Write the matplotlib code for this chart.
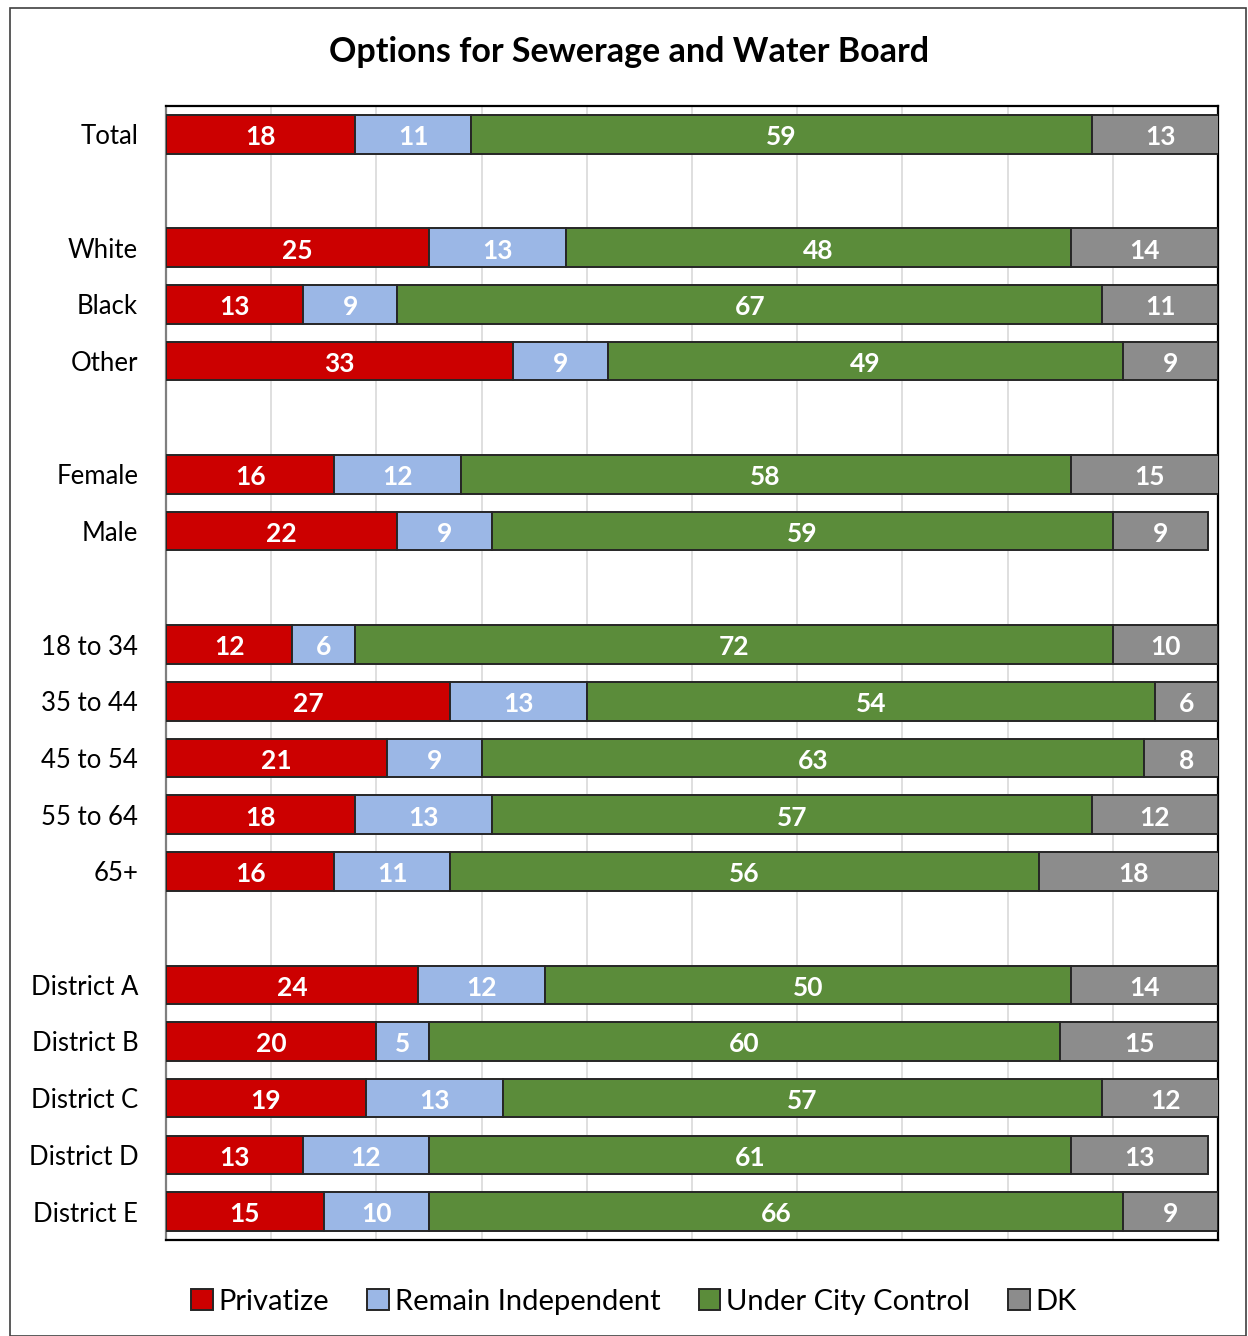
import matplotlib
matplotlib.use('Agg')
import matplotlib.pyplot as plt
from matplotlib.patches import Rectangle
import numpy as np

plt.rcParams['font.family'] = ['Lato', 'DejaVu Sans']

# rows of the chart; None is a blank spacer row
labels = ["Total", None, "White", "Black", "Other", None, "Female", "Male", None,
          "18 to 34", "35 to 44", "45 to 54", "55 to 64", "65+", None,
          "District A", "District B", "District C", "District D", "District E"]
privatize = [18, None, 25, 13, 33, None, 16, 22, None, 12, 27, 21, 18, 16, None, 24, 20, 19, 13, 15]
independent = [11, None, 13, 9, 9, None, 12, 9, None, 6, 13, 9, 13, 11, None, 12, 5, 13, 12, 10]
city = [59, None, 48, 67, 49, None, 58, 59, None, 72, 54, 63, 57, 56, None, 50, 60, 57, 61, 66]
dk = [13, None, 14, 11, 9, None, 15, 9, None, 10, 6, 8, 12, 18, None, 14, 15, 12, 13, 9]

series = ["Privatize", "Remain Independent", "Under City Control", "DK"]
colors = ["#CC0000", "#9BB7E6", "#5B8C3A", "#8C8C8C"]

fig = plt.figure(figsize=(12.48, 13.36), dpi=100)
ax = fig.add_axes([0.133, 0.0719, 0.843, 0.8488])

ypos = [i for i, l in enumerate(labels) if l is not None]
names = [labels[i] for i in ypos]
data = [[s[i] for i in ypos] for s in (privatize, independent, city, dk)]

left = np.zeros(len(ypos))
for vals, name, col in zip(data, series, colors):
    vals = np.array(vals, dtype=float)
    ax.barh(ypos, vals, left=left, height=0.68, color=col,
            edgecolor="#262626", linewidth=1.4, label=name, zorder=3)
    for y, l, v in zip(ypos, left, vals):
        ax.text(l + v / 2, y + 0.05, f"{int(v)}", ha='center', va='center',
                color='white', fontsize=19, fontweight='bold', zorder=4)
    left += vals

ax.set_xlim(0, 100)
ax.set_ylim(19.5, -0.5)
ax.set_xticks(np.arange(0, 101, 10))
ax.set_xticklabels([])
ax.tick_params(axis='x', length=0)
ax.grid(axis='x', color='#D9D9D9', linewidth=1.2, zorder=0)
ax.set_yticks(ypos)
ax.set_yticklabels(names, fontsize=18.5)
ax.tick_params(axis='y', length=0, pad=20)
for s in ax.spines.values():
    s.set_color('black')
    s.set_linewidth(1.6)
ax.spines['left'].set_color('#7F7F7F')

fig.text(0.504, 0.961, "Options for Sewerage and Water Board", ha='center',
         va='center', fontsize=24.5, fontweight='bold')

ax.legend(loc='upper center', bbox_to_anchor=(0.445, -0.02), ncol=4,
          frameon=False, fontsize=21, handlelength=0.75, handleheight=0.75,
          handletextpad=0.2, columnspacing=1.3)

fig.patches.append(Rectangle((0.008, 0.0), 0.99, 0.994, transform=fig.transFigure,
                             fill=False, edgecolor='#404040', linewidth=1.2))

plt.savefig("out.png", dpi=100)
